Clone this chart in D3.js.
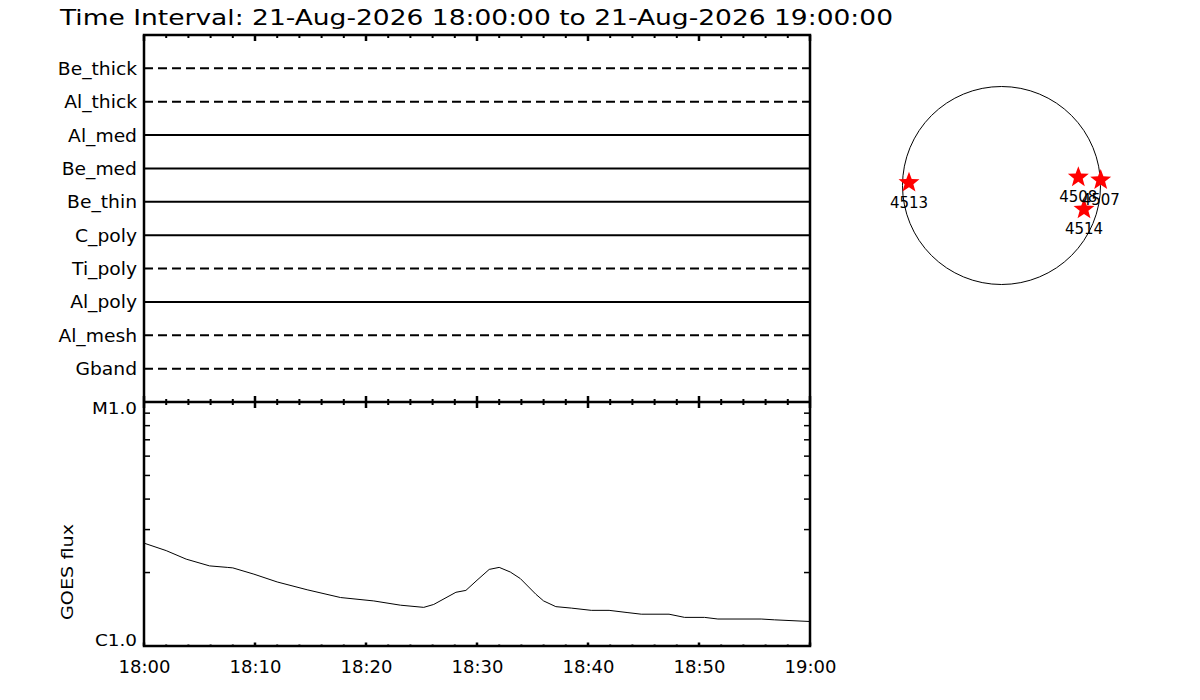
<!DOCTYPE html>
<html>
<head>
<meta charset="utf-8">
<script src="https://cdn.jsdelivr.net/npm/d3@7"></script>
<style>
  body { margin: 0; background: #fff; }
  text { font-family: "DejaVu Sans", sans-serif; fill: #000; }
</style>
</head>
<body>
<script>
var title = "Time Interval: 21-Aug-2026 18:00:00 to 21-Aug-2026 19:00:00"

// filter rows, top to bottom; dashed = 1
var filters = ["Be_thick", "Al_thick", "Al_med", "Be_med", "Be_thin",
               "C_poly", "Ti_poly", "Al_poly", "Al_mesh", "Gband"]
var filterDashed = [1, 1, 0, 0, 0, 0, 1, 0, 1, 1]

// GOES curve, minutes after 18:00 and flux in W/m^2
var goesMinutes = [0, 2, 3.8, 5.9, 7.5, 8, 9.9, 12, 14.7, 17.7, 20.7, 23.1, 25.2, 26.1,
                   28.1, 29, 30, 31.1, 32, 33, 33.9, 35.3, 36, 37.1, 38.5, 40.3, 41.9,
                   43.6, 44.8, 47.3, 48.7, 50.5, 51.7, 55.6, 56.8, 60]
var goesFlux = [2.64e-6, 2.46e-6, 2.27e-6, 2.13e-6, 2.10e-6, 2.09e-6, 1.97e-6, 1.83e-6,
                1.70e-6, 1.58e-6, 1.53e-6, 1.47e-6, 1.44e-6, 1.48e-6, 1.66e-6, 1.69e-6,
                1.86e-6, 2.06e-6, 2.10e-6, 2.01e-6, 1.89e-6, 1.63e-6, 1.53e-6, 1.45e-6,
                1.43e-6, 1.40e-6, 1.40e-6, 1.37e-6, 1.35e-6, 1.35e-6, 1.31e-6, 1.31e-6,
                1.29e-6, 1.29e-6, 1.28e-6, 1.26e-6]
var fluxTicks = [1e-6, 1e-5]
var fluxLabels = ["C1.0", "M1.0"]

// active regions on the disk, arcsec from sun centre
var arNames = ["4513", "4508", "4507", "4514"]
var arX = [-897, 745, 962, 800]
var arY = [27, 80, 53, -231]
var solarRadius = 960

var t0 = new Date(Date.UTC(2026, 7, 21, 18, 0, 0))
var t1 = new Date(Date.UTC(2026, 7, 21, 19, 0, 0))

var pLeft = 144, pRight = 810, pTop = 35, pMid = 402, pBottom = 646

var svg = d3.select("body")
            .append("svg")
            .attr("width", 1200)
            .attr("height", 700)

svg.append("text")
   .attr("x", 60)
   .attr("y", 25)
   .attr("font-size", 22)
   .attr("textLength", 833)
   .attr("lengthAdjust", "spacingAndGlyphs")
   .text(title)

var xScale = d3.scaleUtc()
               .domain([t0, t1])
               .range([pLeft, pRight])

var rowScale = d3.scalePoint()
                 .domain(filters)
                 .range([pTop, pMid])
                 .padding(1)

var yScale = d3.scaleLog()
               .domain([1e-6, 1e-5])
               .range([pBottom, pMid])

// ---- top panel: filter rows
svg.selectAll(".row")
   .data(filters)
   .enter()
   .append("line")
   .attr("class", "row")
   .attr("x1", pLeft)
   .attr("x2", pRight)
   .attr("y1", d => rowScale(d))
   .attr("y2", d => rowScale(d))
   .attr("stroke", "#000")
   .attr("stroke-width", 2)
   .attr("stroke-dasharray", (d, i) => filterDashed[i] ? "9,5" : null)

svg.selectAll(".rowlabel")
   .data(filters)
   .enter()
   .append("text")
   .attr("class", "rowlabel")
   .attr("transform", d => "translate(137," + (rowScale(d) + 6.5) + ") scale(1.1,1)")
   .attr("text-anchor", "end")
   .attr("font-size", 17)
   .text(d => d)

// ---- time ticks
function timeTicks (y, dir, minorLen, majorLen) {
  var minor = d3.utcMinute.every(2).range(t0, d3.utcMinute.offset(t1, 1))
  svg.append("g")
     .selectAll("line")
     .data(minor)
     .enter()
     .append("line")
     .attr("x1", d => xScale(d))
     .attr("x2", d => xScale(d))
     .attr("y1", y)
     .attr("y2", d => y + dir * (d.getUTCMinutes() % 10 === 0 ? majorLen : minorLen))
     .attr("stroke", "#000")
     .attr("stroke-width", d => d.getUTCMinutes() % 10 === 0 ? 2.5 : 2)
}
timeTicks(pTop, 1, 3, 6)
timeTicks(pMid, -1, 3, 6)
timeTicks(pMid, 1, 3, 6)
timeTicks(pBottom, -1, 1.5, 3.5)

svg.append("g")
   .attr("transform", "translate(0," + pBottom + ")")
   .call(d3.axisBottom(xScale)
           .ticks(d3.utcMinute.every(10))
           .tickSize(0)
           .tickPadding(14)
           .tickFormat(d3.utcFormat("%H:%M")))
   .call(g => g.select(".domain").remove())
   .selectAll("text")
   .attr("font-size", 18)
   .attr("font-family", "DejaVu Sans")

// ---- flux ticks
var fluxMinor = yScale.ticks()
svg.append("g")
   .selectAll("line")
   .data(fluxMinor)
   .enter()
   .append("line")
   .attr("x1", pLeft)
   .attr("x2", pLeft + 6)
   .attr("y1", d => yScale(d))
   .attr("y2", d => yScale(d))
   .attr("stroke", "#000")
   .attr("stroke-width", 1.5)
svg.append("g")
   .selectAll("line")
   .data(fluxMinor)
   .enter()
   .append("line")
   .attr("x1", pRight)
   .attr("x2", pRight - 6)
   .attr("y1", d => yScale(d))
   .attr("y2", d => yScale(d))
   .attr("stroke", "#000")
   .attr("stroke-width", 1.5)

svg.selectAll(".fluxlabel")
   .data(fluxTicks)
   .enter()
   .append("text")
   .attr("class", "fluxlabel")
   .attr("transform", (d, i) => "translate(137," + (yScale(d) + (i === fluxTicks.length - 1 ? 12 : 0)) + ") scale(1.15,1)")
   .attr("text-anchor", "end")
   .attr("font-size", 16)
   .text((d, i) => fluxLabels[i])

svg.append("text")
   .attr("transform", "translate(73," + (yScale(Math.sqrt(1e-6 * 1e-5)) + 48) + ") rotate(-90)")
   .attr("text-anchor", "middle")
   .attr("font-size", 16)
   .attr("textLength", 96)
   .attr("lengthAdjust", "spacingAndGlyphs")
   .text("GOES flux")

// ---- GOES curve
var goes = goesMinutes.map((m, i) => ({t: d3.utcSecond.offset(t0, Math.round(m * 60)), f: goesFlux[i]}))
svg.append("path")
   .datum(goes)
   .attr("fill", "none")
   .attr("stroke", "#000")
   .attr("stroke-width", 1)
   .attr("d", d3.line().x(d => xScale(d.t)).y(d => yScale(d.f)))

// ---- frames
svg.append("rect")
   .attr("x", pLeft)
   .attr("y", pTop)
   .attr("width", pRight - pLeft)
   .attr("height", pBottom - pTop)
   .attr("fill", "none")
   .attr("stroke", "#000")
   .attr("stroke-width", 2.5)
svg.append("line")
   .attr("x1", pLeft)
   .attr("x2", pRight)
   .attr("y1", pMid)
   .attr("y2", pMid)
   .attr("stroke", "#000")
   .attr("stroke-width", 2.5)

// ---- solar disk
var cx = 1001.5, cy = 185.5, rPx = 99
var diskX = d3.scaleLinear().domain([-solarRadius, solarRadius]).range([cx - rPx, cx + rPx])
var diskY = d3.scaleLinear().domain([-solarRadius, solarRadius]).range([cy + rPx, cy - rPx])

svg.append("circle")
   .attr("cx", diskX(0))
   .attr("cy", diskY(0))
   .attr("r", diskX(solarRadius) - diskX(0))
   .attr("fill", "none")
   .attr("stroke", "#000")
   .attr("stroke-width", 1)

function starPath (ro, ri) {
  var pts = d3.range(10).map(k => {
    var a = -Math.PI / 2 + k * Math.PI / 5
    var r = k % 2 ? ri : ro
    return [r * Math.cos(a), r * Math.sin(a)]
  })
  return "M" + pts.join("L") + "Z"
}

svg.selectAll(".ar")
   .data(arNames)
   .enter()
   .append("path")
   .attr("class", "ar")
   .attr("transform", (d, i) => "translate(" + diskX(arX[i]) + "," + diskY(arY[i]) + ")")
   .attr("d", starPath(11, 4.6))
   .attr("fill", "#f00")

svg.selectAll(".arlabel")
   .data(arNames)
   .enter()
   .append("text")
   .attr("class", "arlabel")
   .attr("x", (d, i) => diskX(arX[i]))
   .attr("y", (d, i) => diskY(arY[i]) + 25)
   .attr("text-anchor", "middle")
   .attr("font-size", 15)
   .text(d => d)
</script>
</body>
</html>
